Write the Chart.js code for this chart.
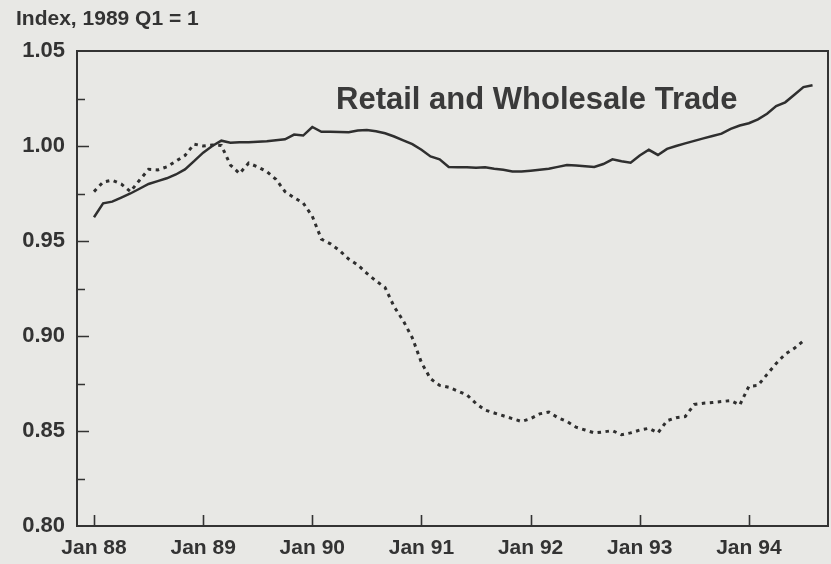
<!DOCTYPE html>
<html>
<head>
<meta charset="utf-8">
<script src="https://cdn.jsdelivr.net/npm/chart.js@4/dist/chart.umd.min.js"></script>
<style>
  html, body { margin: 0; padding: 0; background: #e8e8e5; }
  #wrap { position: relative; width: 831px; height: 564px; }
</style>
</head>
<body>
<div id="wrap"><canvas id="chart"></canvas></div>
<script>
// Monthly index values, Jan 88 onward (1989 Q1 = 1)
const solidSeries = [
  0.9625, 0.9698, 0.9707, 0.9728, 0.975, 0.9775, 0.980, 0.9815, 0.983, 0.985,
  0.9877, 0.992, 0.9965, 1.000, 1.0028, 1.0017, 1.002, 1.002, 1.0023, 1.0025,
  1.003, 1.0035, 1.006, 1.0055, 1.0100, 1.0075, 1.0075, 1.0074, 1.0072, 1.0082,
  1.0084, 1.0078, 1.0067, 1.005, 1.003, 1.001, 0.998, 0.9945, 0.993, 0.989,
  0.9888, 0.9888, 0.9885, 0.9888, 0.988, 0.9875, 0.9866, 0.9866, 0.987, 0.9875,
  0.988, 0.989, 0.990, 0.9897, 0.9893, 0.989, 0.9905, 0.993, 0.992, 0.9912,
  0.995, 0.998, 0.9953, 0.9985, 1.000, 1.0014, 1.0027, 1.004, 1.0053, 1.0065,
  1.009, 1.0108, 1.012, 1.014, 1.017, 1.021, 1.023, 1.027, 1.031, 1.032
];
const dashedSeries = [
  0.976, 0.981, 0.982, 0.980, 0.976, 0.982, 0.9877, 0.9874, 0.989, 0.992,
  0.995, 1.001, 1.000, 1.0005, 1.0003, 0.990, 0.9855, 0.991, 0.989, 0.9865,
  0.9825, 0.976, 0.9728, 0.970, 0.963, 0.951, 0.9485, 0.945, 0.9405, 0.9374,
  0.933, 0.929, 0.9255, 0.9154, 0.908, 0.899, 0.886, 0.8775, 0.874, 0.873,
  0.871, 0.869, 0.8645, 0.861, 0.8595, 0.858, 0.8565, 0.855, 0.8565, 0.859,
  0.860, 0.857, 0.855, 0.852, 0.8505, 0.849, 0.8495, 0.8502, 0.848, 0.849,
  0.8505, 0.8514, 0.849, 0.8554, 0.857, 0.8576, 0.864, 0.8646, 0.865, 0.8655,
  0.866, 0.8637, 0.8735, 0.874, 0.8798, 0.8855, 0.8905, 0.8935, 0.8975
];

// x axis: months since Jan 88
const tickMonths = [0, 12, 24, 36, 48, 60, 72];
const tickLabels = ['Jan 88', 'Jan 89', 'Jan 90', 'Jan 91', 'Jan 92', 'Jan 93', 'Jan 94'];

const yLabelTicks = [0.80, 0.85, 0.90, 0.95, 1.00, 1.05];

const axisTitle = 'Index, 1989 Q1 = 1';
const chartLabel = 'Retail and Wholesale Trade';

const INK = '#333333';

function toPoints(values) {
  return values.map((v, i) => ({ x: i, y: v }));
}

/**
 * Frame, inward tick marks and the two texts
 */
const frameAndText = {
  id: 'frameAndText',
  afterDraw(chart) {
    const { ctx, chartArea: a, scales } = chart;
    ctx.save();
    ctx.strokeStyle = INK;
    ctx.lineWidth = 2;
    ctx.strokeRect(a.left, a.top, a.right - a.left, a.bottom - a.top);

    ctx.lineWidth = 1.6;
    ctx.beginPath();
    tickMonths.forEach(m => {
      const x = Math.round(scales.x.getPixelForValue(m)) + 0.5;
      ctx.moveTo(x, a.bottom);
      ctx.lineTo(x, a.bottom - 11);
    });
    scales.y.ticks.forEach(t => {
      if (t.value <= 0.8001 || t.value >= 1.0499) return;
      const y = Math.round(scales.y.getPixelForValue(t.value)) + 0.5;
      const major = yLabelTicks.some(v => Math.abs(v - t.value) < 1e-6);
      ctx.moveTo(a.left, y);
      ctx.lineTo(a.left + (major ? 12 : 8), y);
    });
    ctx.stroke();

    ctx.fillStyle = INK;
    ctx.textAlign = 'left';
    ctx.textBaseline = 'alphabetic';
    ctx.font = 'bold 21px "Liberation Sans", Arial, sans-serif';
    ctx.fillText(axisTitle, 16, 25);

    ctx.fillStyle = '#3a3a3a';
    ctx.font = 'bold 31px "Liberation Sans", Arial, sans-serif';
    ctx.fillText(chartLabel, 336, 109);
    ctx.restore();
  }
};

new Chart(document.getElementById('chart'), {
  type: 'line',
  data: {
    datasets: [
      {
        label: 'Solid',
        data: toPoints(solidSeries),
        borderColor: '#2f2f2f',
        borderWidth: 2.5,
        pointRadius: 0,
        tension: 0
      },
      {
        label: 'Dashed',
        data: toPoints(dashedSeries),
        borderColor: '#2f2f2f',
        borderWidth: 3,
        borderDash: [3.5, 4.5],
        pointRadius: 0,
        tension: 0
      }
    ]
  },
  options: {
    responsive: true,
    maintainAspectRatio: false,
    animation: false,
    layout: { padding: { top: 51, right: 3, left: 0, bottom: 0 } },
    plugins: {
      legend: { display: false },
      tooltip: { enabled: false }
    },
    scales: {
      x: {
        type: 'linear',
        min: -1.87,
        max: 80.7,
        grid: { display: false, drawTicks: false },
        border: { display: false },
        afterBuildTicks: (scale) => {
          scale.ticks = tickMonths.map(v => ({ value: v }));
        },
        afterFit: (scale) => { scale.height = 38; },
        ticks: {
          autoSkip: false,
          maxRotation: 0,
          padding: 10,
          color: INK,
          font: { family: '"Liberation Sans", Arial, sans-serif', size: 21, weight: 'bold' },
          callback: (v) => tickLabels[tickMonths.indexOf(v)]
        }
      },
      y: {
        min: 0.80,
        max: 1.05,
        grid: { display: false, drawTicks: false },
        border: { display: false },
        afterFit: (scale) => { scale.width = 77; },
        ticks: {
          stepSize: 0.025,
          padding: 12,
          color: INK,
          font: { family: '"Liberation Sans", Arial, sans-serif', size: 22, weight: 'bold' },
          callback: (v) => yLabelTicks.some(t => Math.abs(t - v) < 1e-6) ? v.toFixed(2) : ''
        }
      }
    }
  },
  plugins: [frameAndText]
});
</script>
</body>
</html>
